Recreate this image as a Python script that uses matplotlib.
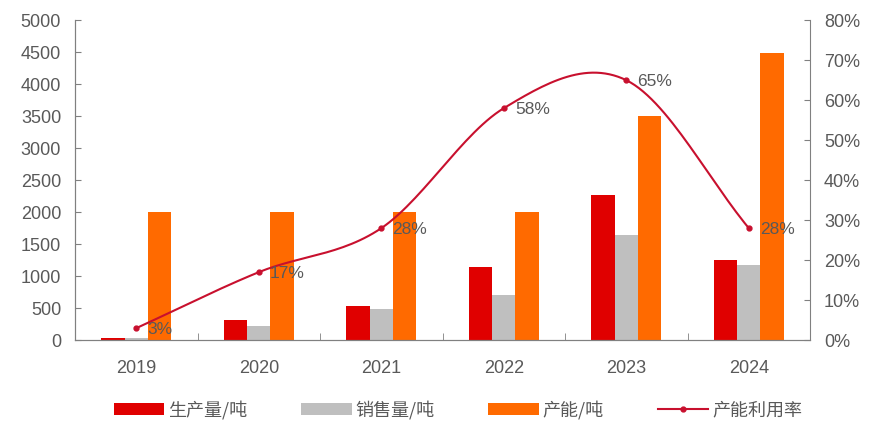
import numpy as np
import matplotlib
matplotlib.use('Agg')
import matplotlib.pyplot as plt
from matplotlib.ticker import PercentFormatter

plt.rcParams['font.family'] = ['Liberation Sans', 'Noto Sans CJK SC', 'DejaVu Sans']

years = ['2019', '2020', '2021', '2022', '2023', '2024']
output = [40, 320, 530, 1150, 2270, 1250]      # 生产量/吨
sales = [30, 220, 490, 700, 1640, 1180]        # 销售量/吨
capacity = [2000, 2000, 2000, 2000, 3500, 4480]  # 产能/吨
util = [3, 17, 28, 58, 65, 28]                 # 产能利用率 %

RED = '#E00000'
GRAY = '#BFBFBF'
ORANGE = '#FF6A00'
LINE = '#C8102E'
AXC = '#808080'
TXT = '#595959'


def catmull_rom(x, y, n=30):
    # smooth curve through the points, like an Excel smoothed line
    x = np.asarray(x, float)
    y = np.asarray(y, float)
    px = np.concatenate([[2 * x[0] - x[1]], x, [2 * x[-1] - x[-2]]])
    py = np.concatenate([[2 * y[0] - y[1]], y, [2 * y[-1] - y[-2]]])
    xs, ys = [], []
    t = np.linspace(0, 1, n)
    for i in range(1, len(px) - 2):
        for p, out in ((px, xs), (py, ys)):
            p0, p1, p2, p3 = p[i - 1], p[i], p[i + 1], p[i + 2]
            out.extend(0.5 * (2 * p1 + (-p0 + p2) * t
                              + (2 * p0 - 5 * p1 + 4 * p2 - p3) * t ** 2
                              + (-p0 + 3 * p1 - 3 * p2 + p3) * t ** 3))
    return np.array(xs), np.array(ys)


fig = plt.figure(figsize=(8.72, 4.21), dpi=100)
ax = fig.add_axes([0.086, 0.192, 0.843, 0.76])
ax2 = ax.twinx()

x = np.arange(len(years))
w = 0.19
ax.bar(x - w, output, w, color=RED, label='生产量/吨')
ax.bar(x, sales, w, color=GRAY, label='销售量/吨')
ax.bar(x + w, capacity, w, color=ORANGE, label='产能/吨')

sx, sy = catmull_rom(x, util)
ax2.plot(sx, sy, color=LINE, lw=1.5, zorder=3)
ax2.plot(x, util, 'o', color=LINE, ms=3.5, zorder=4)
for xi, u in zip(x, util):
    ax2.annotate(f'{u}%', (xi, u), xytext=(8, -1), textcoords='offset points',
                 va='center', ha='left', fontsize=12.5, color=TXT)

ax.set_xlim(-0.5, len(years) - 0.5)
ax.set_ylim(0, 5000)
ax.set_yticks(np.arange(0, 5001, 500))
ax2.set_ylim(0, 80)
ax2.set_yticks(np.arange(0, 81, 10))
ax2.yaxis.set_major_formatter(PercentFormatter(decimals=0))

ax.set_xticks(x)
ax.set_xticklabels(years)
ax.set_xticks(np.arange(-0.5, len(years), 1), minor=True)
ax.tick_params(axis='x', which='major', length=0, pad=14, labelsize=13, labelcolor=TXT)
ax.tick_params(axis='x', which='minor', direction='in', length=5, color=AXC)
ax.tick_params(axis='y', direction='in', length=4, color=AXC, labelsize=13, labelcolor=TXT, pad=10)
ax2.tick_params(axis='y', direction='in', length=4, color=AXC, labelsize=13, labelcolor=TXT, pad=10)

for a in (ax, ax2):
    a.spines['top'].set_visible(False)
    for s in ('left', 'right', 'bottom'):
        a.spines[s].set_color(AXC)
ax.spines['right'].set_visible(False)

h1, l1 = ax.get_legend_handles_labels()
ln = plt.Line2D([], [], color=LINE, lw=1.5, marker='o', ms=3.5)
fig.legend(h1 + [ln], l1 + ['产能利用率'], loc='lower center', ncol=4,
           bbox_to_anchor=(0.525, -0.035), frameon=False,
           handlelength=2.8, handleheight=0.6, handletextpad=0.2,
           columnspacing=3.0, labelcolor=TXT,
           prop={'family': ['Noto Sans CJK SC', 'DejaVu Sans'], 'size': 13})

fig.savefig('out.png', dpi=100)
